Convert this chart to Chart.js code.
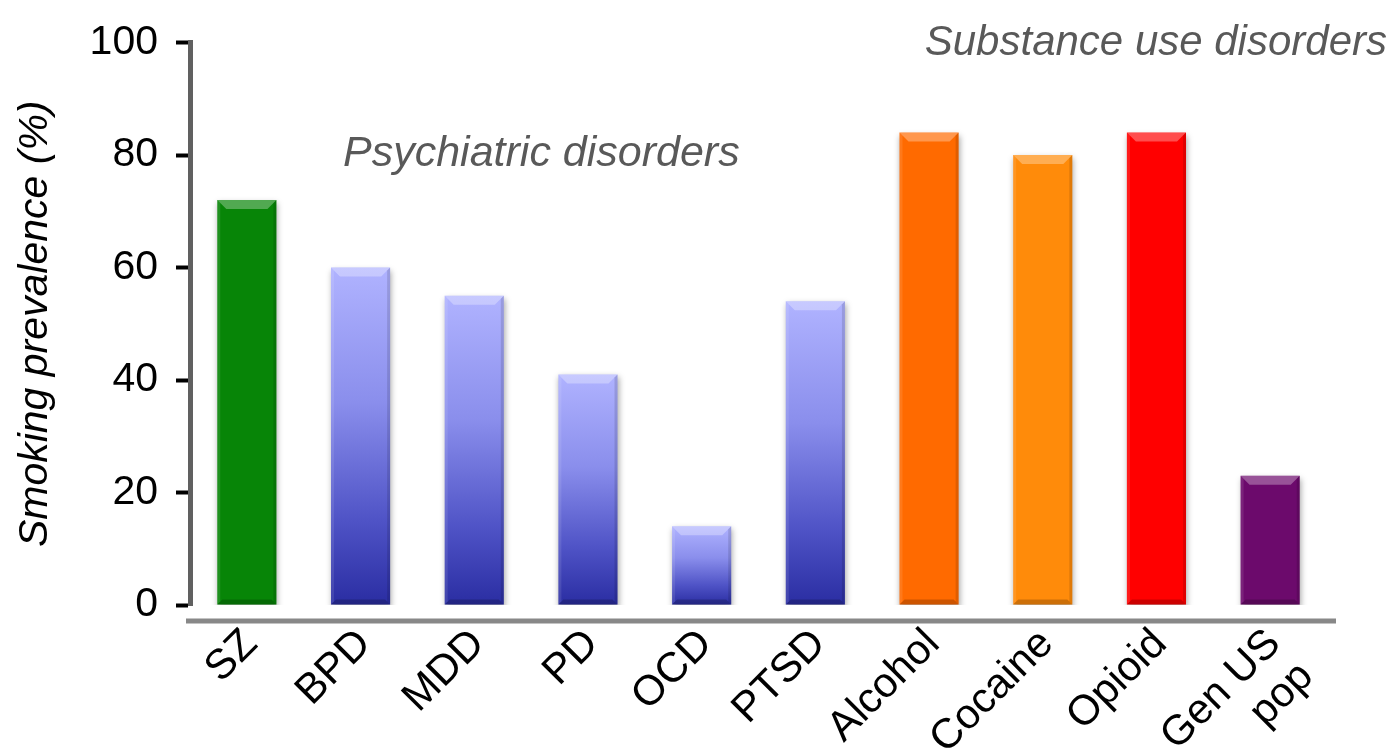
<!DOCTYPE html>
<html>
<head>
<meta charset="utf-8">
<script src="https://cdn.jsdelivr.net/npm/chart.js@4.4.0/dist/chart.umd.min.js"></script>
<style>
  html, body { margin: 0; padding: 0; background: #ffffff; }
  #wrap { width: 1394px; height: 753px; }
</style>
</head>
<body>
<div id="wrap"><canvas id="c" width="1394" height="753"></canvas></div>
<script>
// Smoking prevalence by diagnosis
const categories = ['SZ', 'BPD', 'MDD', 'PD', 'OCD', 'PTSD', 'Alcohol', 'Cocaine', 'Opioid', ['Gen US', 'pop']];
const prevalence = [72, 60, 55, 41, 14, 54, 84, 80, 84, 23];
const yTickValues = [0, 20, 40, 60, 80, 100];
const yTitle = 'Smoking prevalence (%)';
const groupLabels = ['Psychiatric disorders', 'Substance use disorders'];

// bar fills: a solid colour, or 'blue' for the shaded psychiatric bars
const barFills = ['#078507', 'blue', 'blue', 'blue', 'blue', 'blue', '#ff6a00', '#ff8b0a', '#ff0000', '#6c0a6c'];

const FONT = "'Liberation Sans', Arial, Helvetica, sans-serif";

function barColor(ctx) {
  const chart = ctx.chart;
  const fill = barFills[ctx.dataIndex];
  if (fill !== 'blue') return fill;
  if (!chart.chartArea || ctx.parsed === undefined) return '#6f72dd';
  const y = chart.scales.y;
  const top = y.getPixelForValue(ctx.parsed.y);
  const bottom = y.getPixelForValue(0);
  const g = chart.ctx.createLinearGradient(0, top, 0, bottom);
  g.addColorStop(0, '#b0b3ff');
  g.addColorStop(0.4, '#8a8eec');
  g.addColorStop(0.75, '#4f53c6');
  g.addColorStop(1, '#2a2da2');
  return g;
}

// soft drop shadow under the bars
const barShadow = {
  id: 'barShadow',
  beforeDatasetsDraw(chart) {
    const c = chart.ctx;
    c.save();
    c.shadowColor = 'rgba(0,0,0,0.35)';
    c.shadowBlur = 6;
    c.shadowOffsetX = 1;
    c.shadowOffsetY = 3;
  },
  afterDatasetsDraw(chart) {
    chart.ctx.restore();
  }
};

// bevelled edges on each bar
const barBevel = {
  id: 'barBevel',
  afterDatasetsDraw(chart) {
    const c = chart.ctx;
    chart.getDatasetMeta(0).data.forEach(bar => {
      const { x, y, base, width } = bar.getProps(['x', 'y', 'base', 'width'], true);
      const l = x - width / 2, r = x + width / 2;
      const b = Math.min(9, (base - y) / 3);
      c.save();
      // top facet
      c.fillStyle = 'rgba(255,255,255,0.30)';
      c.beginPath();
      c.moveTo(l, y); c.lineTo(r, y); c.lineTo(r - b, y + b); c.lineTo(l + b, y + b);
      c.closePath(); c.fill();
      // left facet
      c.fillStyle = 'rgba(255,255,255,0.10)';
      c.beginPath();
      c.moveTo(l, y); c.lineTo(l + 3, y + 3); c.lineTo(l + 3, base - 3); c.lineTo(l, base);
      c.closePath(); c.fill();
      // right facet
      c.fillStyle = 'rgba(0,0,0,0.12)';
      c.beginPath();
      c.moveTo(r, y); c.lineTo(r - 3, y + 3); c.lineTo(r - 3, base - 3); c.lineTo(r, base);
      c.closePath(); c.fill();
      // bottom facet
      c.fillStyle = 'rgba(0,0,0,0.20)';
      c.beginPath();
      c.moveTo(l, base); c.lineTo(r, base); c.lineTo(r - 5, base - 5); c.lineTo(l + 5, base - 5);
      c.closePath(); c.fill();
      c.restore();
    });
  }
};

// baseline drawn a little below the zero tick, plus the group captions
const decorations = {
  id: 'decorations',
  afterDraw(chart) {
    const c = chart.ctx;
    const area = chart.chartArea;
    c.save();
    c.strokeStyle = '#888888';
    c.lineWidth = 5;
    c.beginPath();
    c.moveTo(area.left - 4, area.bottom + 16);
    c.lineTo(area.right + 9, area.bottom + 16);
    c.stroke();

    c.fillStyle = '#595959';
    c.textBaseline = 'middle';
    c.font = 'italic 43px ' + FONT;
    c.textAlign = 'left';
    c.fillText(groupLabels[0], 343, 154);
    c.font = 'italic 42px ' + FONT;
    c.textAlign = 'right';
    c.fillText(groupLabels[1], 1387, 43);
    c.restore();
  }
};

new Chart(document.getElementById('c'), {
  type: 'bar',
  data: {
    labels: categories,
    datasets: [{
      data: prevalence,
      backgroundColor: barColor,
      borderWidth: 0,
      categoryPercentage: 1,
      barPercentage: 0.52
    }]
  },
  options: {
    responsive: false,
    animation: false,
    events: [],
    layout: { padding: { top: 34, right: 67, bottom: 0, left: 0 } },
    plugins: {
      legend: { display: false },
      tooltip: { enabled: false },
      title: { display: false }
    },
    scales: {
      x: {
        grid: { display: false, drawTicks: false },
        border: { display: false },
        ticks: {
          autoSkip: false,
          maxRotation: 45,
          minRotation: 45,
          padding: 16,
          labelOffset: 4,
          color: '#000000',
          font: { family: FONT, size: 42, lineHeight: 1.1 }
        },
        afterFit(scale) { scale.height = 148; }
      },
      y: {
        min: 0,
        max: 100,
        afterBuildTicks(scale) { scale.ticks = yTickValues.map(v => ({ value: v })); },
        grid: {
          drawOnChartArea: false,
          drawTicks: true,
          tickLength: 14,
          tickColor: '#000000',
          tickWidth: 4
        },
        border: { display: true, color: '#606060', width: 5 },
        ticks: {
          padding: 18,
          color: '#000000',
          font: { family: FONT, size: 41 }
        },
        title: {
          display: true,
          text: yTitle,
          color: '#000000',
          padding: { top: 11, bottom: 0 },
          font: { family: FONT, size: 41, style: 'italic' }
        },
        afterFit(scale) { scale.width = 190; }
      }
    }
  },
  plugins: [barShadow, barBevel, decorations]
});
</script>
</body>
</html>
